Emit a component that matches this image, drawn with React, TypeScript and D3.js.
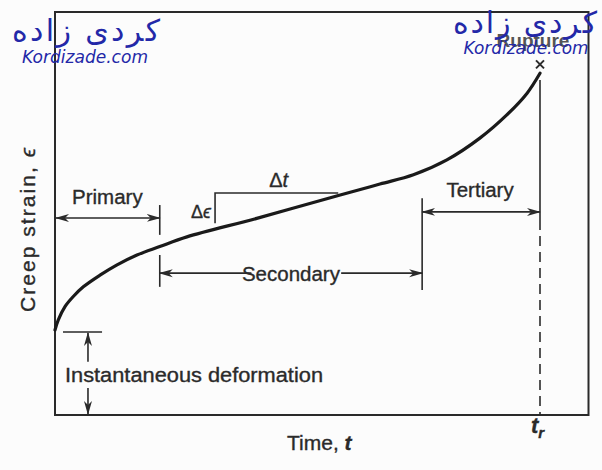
import React from "react";
import * as d3 from "d3";

// Creep curve data (time as fraction of rupture time, strain in arbitrary units)
const TIME = [0, 0.0068, 0.0206, 0.0377, 0.0584, 0.0928, 0.127, 0.169, 0.216, 0.272, 0.416, 0.588, 0.67, 0.739, 0.808, 0.876, 0.931, 0.973, 1.0];
const STRAIN = [21.1, 23.6, 26.9, 29.4, 31.8, 34.7, 37.2, 39.7, 41.8, 44.2, 48.8, 54.6, 57.3, 59.6, 63.3, 68.7, 74.4, 79.8, 84.8];

// Stage boundaries (time)
const PHASE_BOUNDS = [0, 0.216, 0.757, 1.0];
const PHASE_LABELS = ["Primary", "Secondary", "Tertiary"];
const INSTANT_STRAIN = 20.6;
const RUPTURE_STRAIN = 87;

const W = 602;
const H = 470;
const INK = "#2a2a2a";
const WM = "#2328a8";
const FONT = "'Liberation Sans', Arial, Helvetica, sans-serif";

export default function App() {
  const x = d3.scaleLinear().domain([0, 1.1]).range([55, 588.5]);
  const y = d3.scaleLinear().domain([0, 100]).range([415, 12]);

  const pts: [number, number][] = TIME.map((t, i) => [t, STRAIN[i]]);
  const line = d3
    .line<[number, number]>()
    .x((d) => x(d[0]))
    .y((d) => y(d[1]))
    .curve(d3.curveCatmullRom.alpha(0.5));

  const [t0, t1, t2, tr] = PHASE_BOUNDS;

  const txt = { fill: INK, stroke: INK, strokeWidth: 0.35 };

  return (
    <svg width={W} height={H} style={{ position: "absolute", left: 0, top: 0, background: "#fcfcfc" }}
      fontFamily={FONT}>
      <defs>
        <marker id="arrR" viewBox="0 0 14 10" refX="13" refY="5" markerWidth="14" markerHeight="10"
          markerUnits="userSpaceOnUse" orient="auto">
          <path d="M0,1 L14,5 L0,9 L4,5 Z" fill={INK} />
        </marker>
        <marker id="arrL" viewBox="0 0 14 10" refX="1" refY="5" markerWidth="14" markerHeight="10"
          markerUnits="userSpaceOnUse" orient="auto">
          <path d="M14,1 L0,5 L14,9 L10,5 Z" fill={INK} />
        </marker>
      </defs>
      <rect x={0} y={0} width={W} height={H} fill="#fcfcfc" />

      {/* frame */}
      <rect x={x(0)} y={y(100)} width={x(1.1) - x(0)} height={y(0) - y(100)}
        fill="none" stroke={INK} strokeWidth={2} />

      {/* creep curve */}
      <path d={line(pts) || ""} fill="none" stroke="#1a1a1a" strokeWidth={3.2} strokeLinecap="round" />

      {/* rupture marker */}
      <g stroke={INK} strokeWidth={2}>
        <line x1={x(tr) - 4} x2={x(tr) + 4} y1={y(RUPTURE_STRAIN) - 4} y2={y(RUPTURE_STRAIN) + 4} />
        <line x1={x(tr) - 4} x2={x(tr) + 4} y1={y(RUPTURE_STRAIN) + 4} y2={y(RUPTURE_STRAIN) - 4} />
      </g>
      <text x={x(tr) - 7} y={47} textAnchor="middle" fontSize={19} fontWeight="bold" fill="#555">Rupture</text>

      {/* vertical at t_r */}
      <line x1={x(tr)} x2={x(tr)} y1={y(83.1)} y2={y(48.4)} stroke={INK} strokeWidth={1.6} />
      <line x1={x(tr)} x2={x(tr)} y1={y(48.4)} y2={y(0)} stroke={INK} strokeWidth={1.6} strokeDasharray="10 6" />

      {/* Primary */}
      <line x1={x(t1)} x2={x(t1)} y1={y(52.1)} y2={y(44.7)} stroke={INK} strokeWidth={1.6} />
      <line x1={x(t0) + 1} x2={x(t1)} y1={y(48.9)} y2={y(48.9)} stroke={INK} strokeWidth={1.6}
        markerStart="url(#arrL)" markerEnd="url(#arrR)" />
      <text x={(x(t0) + x(t1)) / 2} y={y(48.9) - 14} textAnchor="middle" fontSize={20.5} {...txt}>{PHASE_LABELS[0]}</text>

      {/* Secondary */}
      <line x1={x(t1)} x2={x(t1)} y1={y(39.7)} y2={y(31.8)} stroke={INK} strokeWidth={1.6} />
      <line x1={x(t2)} x2={x(t2)} y1={y(53.8)} y2={y(31.0)} stroke={INK} strokeWidth={1.6} />
      <line x1={x(t1)} x2={x(0.405)} y1={y(35.2)} y2={y(35.2)} stroke={INK} strokeWidth={1.6} markerStart="url(#arrL)" />
      <line x1={x(0.59)} x2={x(t2)} y1={y(35.2)} y2={y(35.2)} stroke={INK} strokeWidth={1.6} markerEnd="url(#arrR)" />
      <text x={(x(t1) + x(t2)) / 2} y={y(35.2) + 8} textAnchor="middle" fontSize={20.5} {...txt}>{PHASE_LABELS[1]}</text>

      {/* Tertiary */}
      <line x1={x(t2)} x2={x(tr)} y1={y(50.4)} y2={y(50.4)} stroke={INK} strokeWidth={1.6}
        markerStart="url(#arrL)" markerEnd="url(#arrR)" />
      <text x={(x(t2) + x(tr)) / 2 - 1} y={y(50.4) - 15} textAnchor="middle" fontSize={20.5} {...txt}>{PHASE_LABELS[2]}</text>

      {/* Δε / Δt */}
      <path d={`M${x(0.33)},${y(47.6)} L${x(0.33)},${y(55.1)} L${x(0.584)},${y(55.1)}`} fill="none" stroke={INK} strokeWidth={1.6} />
      <text x={x(0.33) - 4} y={y(55.1) + 25} textAnchor="end" fontSize={18} {...txt}>Δ<tspan fontStyle="italic">ϵ</tspan></text>
      <text x={(x(0.33) + x(0.584)) / 2 + 2} y={y(55.1) - 6} textAnchor="middle" fontSize={20} {...txt}>Δ<tspan fontStyle="italic">t</tspan></text>

      {/* Instantaneous deformation */}
      <line x1={x(0.0165)} x2={x(0.097)} y1={y(INSTANT_STRAIN)} y2={y(INSTANT_STRAIN)} stroke={INK} strokeWidth={1.6} />
      <line x1={x(0.068)} x2={x(0.068)} y1={y(13.2)} y2={y(INSTANT_STRAIN) + 1} stroke={INK} strokeWidth={1.6} markerEnd="url(#arrR)" />
      <line x1={x(0.068)} x2={x(0.068)} y1={y(6.7)} y2={y(0) - 1} stroke={INK} strokeWidth={1.6} markerEnd="url(#arrR)" />
      <text x={65} y={382} fontSize={20.5} {...txt} textLength={258} lengthAdjust="spacingAndGlyphs">Instantaneous deformation</text>

      {/* Axis labels */}
      <text x={287} y={450} fontSize={21} {...txt}>Time, <tspan fontStyle="italic" fontWeight="bold">t</tspan></text>
      <text x={x(tr) - 9} y={433} fontSize={22} {...txt} fontStyle="italic" fontWeight="bold">t<tspan fontSize={15} dy={5}>r</tspan></text>
      <text transform="translate(35,230) rotate(-90)" textAnchor="middle" fontSize={21} {...txt}
        textLength={164} lengthAdjust="spacing">Creep strain, <tspan fontStyle="italic">ϵ</tspan></text>

      {/* watermarks */}
      <g fill={WM}>
        <text x={12} y={41} fontSize={30} fontFamily="'DejaVu Sans', sans-serif" textLength={148} lengthAdjust="spacing">کردی زاده</text>
        <text x={85} y={63} textAnchor="middle" fontSize={18} fontStyle="italic" fontFamily="'DejaVu Sans', sans-serif" textLength={126} lengthAdjust="spacingAndGlyphs">Kordizade.com</text>
        <text x={453} y={33} fontSize={30} fontFamily="'DejaVu Sans', sans-serif" textLength={144} lengthAdjust="spacing">کردی زاده</text>
        <text x={526} y={54} textAnchor="middle" fontSize={18} fontStyle="italic" fontFamily="'DejaVu Sans', sans-serif" textLength={125} lengthAdjust="spacingAndGlyphs">Kordizade.com</text>
      </g>
    </svg>
  );
}
